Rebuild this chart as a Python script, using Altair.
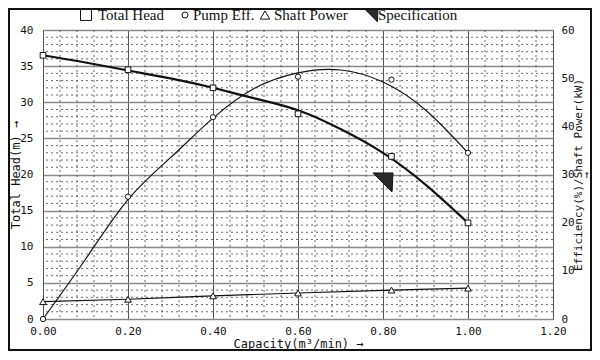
import altair as alt
import pandas as pd
import numpy as np

# ---- data ----
cap = [0.0, 0.2, 0.4, 0.6, 0.82, 1.0]
head_pts = [36.5, 34.5, 32.0, 28.4, 22.5, 13.3]          # Total Head (m), left axis
eff_pts = [0.0, 25.4, 41.9, 50.3, 49.7, 34.5]            # Pump Eff. (%), right axis
power_pts = [3.6, 4.1, 4.8, 5.4, 6.0, 6.4]               # Shaft Power (kW), right axis

curve_x = [0.0, 0.1, 0.2, 0.3, 0.4, 0.5, 0.6, 0.7, 0.8, 0.9, 1.0]
head_curve = [36.5, 35.5, 34.4, 33.3, 32.0, 30.5, 28.9, 26.3, 23.0, 18.6, 13.3]
eff_curve = [0.0, 12.4, 24.8, 33.5, 41.7, 48.0, 51.1, 51.7, 49.2, 43.4, 34.5]

spec_x = [0.8]
spec_y = [18.9]

x_ticks = [0.0, 0.2, 0.4, 0.6, 0.8, 1.0, 1.2]
left_ticks = [0, 5, 10, 15, 20, 25, 30, 35, 40]
right_ticks = [0, 10, 20, 30, 40, 50, 60]

SPEC_PATH = "M -1 -0.95 L 1 -0.95 L 0.9 0.95 Z"
MONO = "DejaVu Sans Mono"
SERIF = "Liberation Serif"
INK = "#111"

# ---- tables ----
head_df = pd.DataFrame({"x": cap, "y": head_pts})
spec_df = pd.DataFrame({"x": spec_x, "y": spec_y})
head_curve_df = pd.DataFrame({"x": curve_x, "y": head_curve})
eff_df = pd.DataFrame({"x": cap, "y": eff_pts})
pow_df = pd.DataFrame({"x": cap, "y": power_pts})
eff_curve_df = pd.DataFrame({"x": curve_x, "y": eff_curve})

minor_x = pd.DataFrame({"x": [round(v, 2) for v in np.arange(0.04, 1.2, 0.04)
                              if abs(v / 0.2 - round(v / 0.2)) > 1e-6]})
minor_y = pd.DataFrame({"y": [v for v in range(1, 40) if v % 5 != 0]})

X = alt.X("x:Q", scale=alt.Scale(domain=[0, 1.2], nice=False),
          axis=alt.Axis(values=x_ticks, format=".2f", title="Capacity(m³/min) →",
                        labelFont=MONO, labelFontSize=11, labelColor=INK, labelFlush=False,
                        titleFont=MONO, titleFontSize=12, titleFontWeight="normal", titleColor=INK,
                        titleBaseline="middle", titleY=24,
                        ticks=False, domain=False, labelPadding=6,
                        grid=True, gridColor="#555", gridWidth=1))

YL = alt.Y("y:Q", scale=alt.Scale(domain=[0, 40], nice=False),
           axis=alt.Axis(values=left_ticks, title="Total Head(m) →", orient="left",
                         labelFont=MONO, labelFontSize=11, labelColor=INK, labelFlush=False,
                         titleFont=MONO, titleFontSize=12, titleFontWeight="normal", titleColor=INK,
                         titleAngle=270, titleAlign="center", titleBaseline="middle",
                         titleX=-28, titleY=144.5,
                         ticks=False, domain=False, labelPadding=10,
                         grid=True, gridColor="#8a8a8a", gridWidth=1.6))

YR = alt.Y("y:Q", scale=alt.Scale(domain=[0, 60], nice=False),
           axis=alt.Axis(values=right_ticks, title=["Efficiency(%)/Shaft Power(kW)", "→"], orient="right",
                         labelFont=MONO, labelFontSize=11, labelColor=INK, labelAlign="left", labelFlush=False,
                         titleFont=MONO, titleFontSize=11, titleFontWeight="normal", titleColor=INK,
                         titleAngle=270, titleAlign="center", titleBaseline="middle", titleLineHeight=8,
                         titleX=25, titleY=144.5,
                         ticks=False, domain=False, labelPadding=8, grid=False))

# minor grid
grid_v = alt.Chart(minor_x).mark_rule(color="#444", strokeWidth=0.8, strokeDash=[2, 3]).encode(x=X)
grid_h = alt.Chart(minor_y).mark_rule(color="#444", strokeWidth=0.8, strokeDash=[2, 3]).encode(y=YL)

head_line = alt.Chart(head_curve_df).mark_line(color=INK, strokeWidth=2.2, interpolate="natural").encode(x=X, y=YL)
head_mark = alt.Chart(head_df).mark_point(shape="square", size=32, fill="white", stroke=INK,
                                          strokeWidth=1, opacity=1, filled=False).encode(x=X, y=YL)
spec_mark = alt.Chart(spec_df).mark_point(shape=SPEC_PATH, size=400, fill="#2a2a2a", stroke=INK,
                                          strokeWidth=1, opacity=1, filled=True).encode(x=X, y=YL)

left = alt.layer(grid_v, grid_h, head_line, head_mark, spec_mark)

eff_line = alt.Chart(eff_curve_df).mark_line(color=INK, strokeWidth=1.2, interpolate="natural").encode(x=X, y=YR)
pow_line = alt.Chart(pow_df).mark_line(color=INK, strokeWidth=1.2, interpolate="monotone").encode(x=X, y=YR)
eff_mark = alt.Chart(eff_df).mark_point(shape="circle", size=28, fill="white", stroke=INK,
                                        strokeWidth=1, opacity=1).encode(x=X, y=YR)
pow_mark = alt.Chart(pow_df).mark_point(shape="triangle-up", size=45, fill="white", stroke=INK,
                                        strokeWidth=1, opacity=1).encode(x=X, y=YR)

right = alt.layer(eff_line, pow_line, eff_mark, pow_mark)

# ---- legend row drawn above the plot ----
one = pd.DataFrame({"a": [0]})
LY = -15


def sym(px, shape, size, fill):
    return alt.Chart(one).mark_point(shape=shape, size=size, fill=fill, stroke=INK, strokeWidth=1,
                                     opacity=1).encode(x=alt.value(px), y=alt.value(LY))


def lab(px, text):
    return alt.Chart(one).mark_text(text=text, font=SERIF, fontSize=15, color=INK, align="left",
                                    baseline="middle").encode(x=alt.value(px), y=alt.value(LY))


legend = alt.layer(
    sym(43, "square", 120, "white"), lab(55, "Total Head"),
    sym(142, "circle", 35, "white"), lab(150, "Pump Eff."),
    sym(222, "triangle-up", 90, "white"), lab(231, "Shaft Power"),
    sym(328, SPEC_PATH, 200, "#2a2a2a"), lab(335, "Specification"),
)

frame = alt.Chart(one).mark_rect(fill=None, stroke=INK, strokeWidth=2).encode(
    x=alt.value(-34), x2=alt.value(548), y=alt.value(-21), y2=alt.value(320))

chart = alt.layer(left, right, legend, frame).resolve_scale(y="independent").properties(
    width=510, height=289,
    autosize=alt.AutoSizeParams(type="none"),
    padding={"left": 35, "top": 22, "right": 39, "bottom": 33},
    background="white",
).configure_view(stroke="#333", strokeWidth=1)

chart.save("out.html", embed_options={"renderer": "svg", "actions": False})
